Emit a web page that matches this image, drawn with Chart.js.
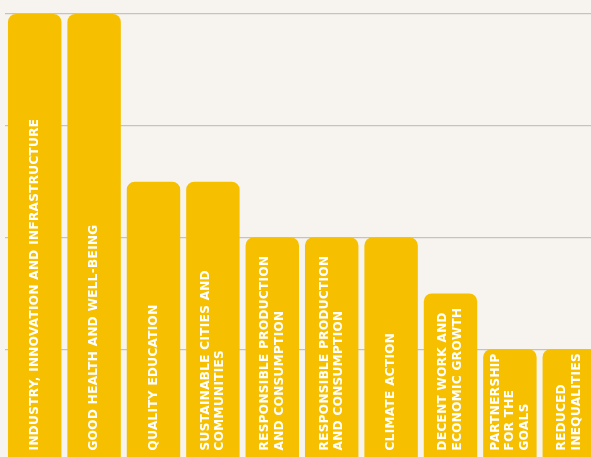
<!DOCTYPE html>
<html>
<head>
<meta charset="utf-8">
<script src="https://cdn.jsdelivr.net/npm/chart.js@4/dist/chart.umd.min.js"></script>
<style>
  html, body { margin: 0; padding: 0; background: #f7f4f0; overflow: hidden; }
  #wrap { width: 599px; height: 461px; }
</style>
</head>
<body>
<div id="wrap"><canvas id="grafico"></canvas></div>
<script>
// Categorias (cada item = linhas do rótulo dentro da barra)
const categorias = [
  ["INDUSTRY, INNOVATION AND INFRASTRUCTURE"],
  ["GOOD HEALTH AND WELL-BEING"],
  ["QUALITY EDUCATION"],
  ["SUSTAINABLE CITIES AND", "COMMUNITIES"],
  ["RESPONSIBLE PRODUCTION", "AND CONSUMPTION"],
  ["RESPONSIBLE PRODUCTION", "AND CONSUMPTION"],
  ["CLIMATE ACTION"],
  ["DECENT WORK AND", "ECONOMIC GROWTH"],
  ["PARTNERSHIP", "FOR THE", "GOALS"],
  ["REDUCED", "INEQUALITIES"]
];
const valores = [8, 8, 5, 5, 4, 4, 4, 3, 2, 2];
const ticksY = [0, 2, 4, 6, 8];

const AMARELO = "#f6c000";

// Escreve os rótulos girados dentro de cada barra
const rotulosBarras = {
  id: "rotulosBarras",
  afterDatasetsDraw(chart) {
    const ctx = chart.ctx;
    const meta = chart.getDatasetMeta(0);
    const alturaLinha = 14.5;
    ctx.save();
    ctx.fillStyle = "#ffffff";
    ctx.font = "bold 12px 'DejaVu Sans'";
    ctx.letterSpacing = "0.35px";
    ctx.textAlign = "left";
    ctx.textBaseline = "middle";
    meta.data.forEach((bar, i) => {
      const linhas = categorias[i];
      ctx.save();
      ctx.translate(bar.x, bar.base - 10);
      ctx.rotate(-Math.PI / 2);
      linhas.forEach((txt, j) => {
        const off = (j - (linhas.length - 1) / 2) * alturaLinha;
        ctx.fillText(txt, 0, off);
      });
      ctx.restore();
    });
    ctx.restore();
  }
};

new Chart(document.getElementById("grafico"), {
  type: "bar",
  data: {
    labels: categorias,
    datasets: [{
      data: valores,
      backgroundColor: AMARELO,
      borderWidth: 0,
      borderRadius: 8,
      borderSkipped: "start",
      barPercentage: 0.9,
      categoryPercentage: 1
    }]
  },
  options: {
    responsive: true,
    maintainAspectRatio: false,
    animation: false,
    layout: { padding: { left: 5, right: 0, top: 14, bottom: 0 } },
    plugins: { legend: { display: false }, tooltip: { enabled: false } },
    scales: {
      x: {
        display: false,
        grid: { display: false }
      },
      y: {
        min: ticksY[0],
        max: ticksY[ticksY.length - 1],
        afterBuildTicks: axis => { axis.ticks = ticksY.map(v => ({ value: v })); },
        ticks: { display: false },
        border: { display: false },
        grid: { color: "#c6c2bd", lineWidth: 1.2, drawTicks: false }
      }
    }
  },
  plugins: [rotulosBarras]
});
</script>
</body>
</html>
